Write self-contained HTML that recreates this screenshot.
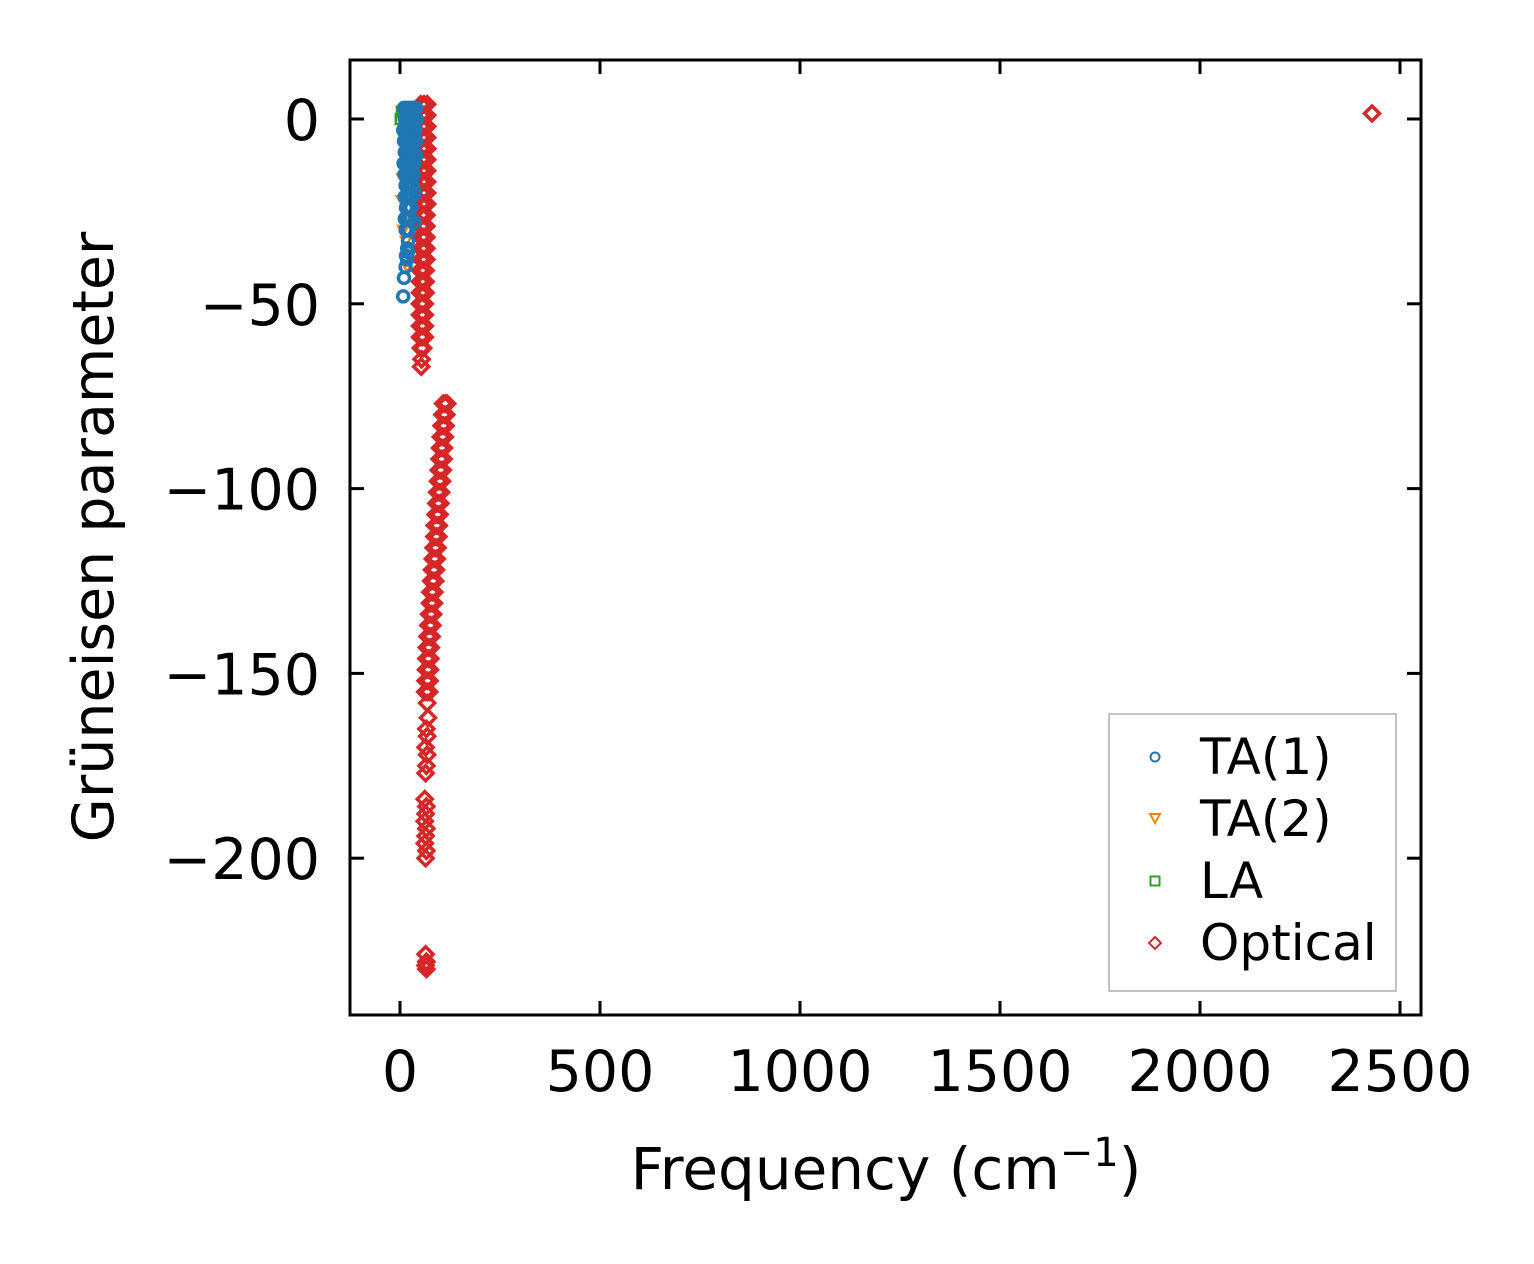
<!DOCTYPE html>
<html><head><meta charset="utf-8"><style>
body{margin:0;background:#fff;}
svg{display:block;font-family:"DejaVu Sans","Liberation Sans",sans-serif;}
</style></head><body>
<svg id="chart" width="1534" height="1264" viewBox="0 0 1534 1264" xmlns="http://www.w3.org/2000/svg">
<rect width="1534" height="1264" fill="#fff"/>
<g id="marks"></g>
<rect x="350" y="60" width="1071" height="955" fill="none" stroke="#000" stroke-width="3"/>
<g id="axes"></g>
<text x="113" y="537" font-size="57" text-anchor="middle" transform="rotate(-90 113 537)">Grüneisen parameter</text>
<text x="886" y="1189" font-size="58" text-anchor="middle">Frequency (cm<tspan dy="-23" font-size="40">−1</tspan><tspan dy="23">)</tspan></text>
<g>
<rect x="1109" y="714" width="287" height="277" fill="#fff" stroke="#999" stroke-width="1.2"/>
<circle cx="1155" cy="757" r="4.5" fill="none" stroke="#1f77b4" stroke-width="2"/>
<text x="1200" y="774" font-size="50">TA(1)</text>
<path d="M1150,814 L1160,814 L1155,823 Z" fill="none" stroke="#ff7f0e" stroke-width="2"/>
<text x="1200" y="836" font-size="50">TA(2)</text>
<rect x="1150.5" y="876.5" width="9" height="9" fill="none" stroke="#2ca02c" stroke-width="2"/>
<text x="1200" y="898" font-size="50">LA</text>
<path d="M1155,937 L1161,943 L1155,949 L1149,943 Z" fill="none" stroke="#d62728" stroke-width="2"/>
<text x="1200" y="960" font-size="50">Optical</text>
</g>
</svg>
<script>
const xTicks=[0,500,1000,1500,2000,2500];
const yTicks=[0,-50,-100,-150,-200];
const ta1Freq=[10,18,25,32,40,12,20,28,35,42,8,15,22,30,38,10,18,26,33,40,12,18,24,30,36,9,15,22,28,35,11,18,25,30,34,14,18,22,28,32,12,18,24,28,30,15,18,22,25,28,12,16,20,24,26,14,18,22,20,18,15,18,14,10,8,30,35,20,40,38,36];
const ta1Gamma=[3,3,3,3,3,0,0,0,0,0,-3,-3,-3,-3,-3,-6,-6,-6,-6,-6,-9,-9,-9,-9,-9,-12,-12,-12,-12,-12,-15,-15,-15,-15,-15,-18,-18,-18,-18,-18,-21,-21,-21,-21,-21,-24,-24,-24,-24,-24,-27,-27,-27,-27,-27,-30,-30,-30,-33,-35,-37,-38,-40,-43,-48,-1,2,-36,-10,-20,-28];
const ta2Freq=[5,8,12,20,6,15,32,18];
const ta2Gamma=[-22,-30,-5,-26,-16,-33,2,-40];
const laFreq=[2,5,10,35,30,15];
const laGamma=[0,2,-3,2,-10,-6];
const optFreq=[
52,60,68,52,60,68,52,60,68,52,60,68,52,60,68,52,60,68,52,60,68,52,60,68,52,60,68,52,60,68,
52,60,66,52,60,66,52,58,66,52,58,66,52,58,66,50,58,64,50,58,64,50,58,64,50,56,62,50,56,62,
50,56,62,50,56,62,52,58,54,53,
108,113,118,106,111,116,104,109,114,102,107,112,100,105,110,99,104,109,97,102,107,95,100,105,
93,98,103,91,96,101,89,94,99,87,92,97,86,91,96,84,89,94,82,87,92,80,85,90,78,83,88,76,81,86,
75,80,85,73,78,83,71,76,81,69,74,79,67,72,77,66,71,76,65,70,75,64,69,74,63,68,73,
68,70,66,68,64,68,66,64,62,66,64,62,66,64,62,66,64,64,66,64,66];
const optGamma=[
4,4,4,1,1,1,-2,-2,-2,-5,-5,-5,-8,-8,-8,-11,-11,-11,-14,-14,-14,-17,-17,-17,-20,-20,-20,-23,-23,-23,
-26,-26,-26,-29,-29,-29,-32,-32,-32,-35,-35,-35,-38,-38,-38,-41,-41,-41,-44,-44,-44,-47,-47,-47,-50,-50,-50,-53,-53,-53,
-56,-56,-56,-59,-59,-59,-62,-62,-65,-67,
-77,-77,-77,-80,-80,-80,-83,-83,-83,-86,-86,-86,-89,-89,-89,-92,-92,-92,-95,-95,-95,-98,-98,-98,
-101,-101,-101,-104,-104,-104,-107,-107,-107,-110,-110,-110,-113,-113,-113,-116,-116,-116,-119,-119,-119,-122,-122,-122,-125,-125,-125,-128,-128,-128,
-131,-131,-131,-134,-134,-134,-137,-137,-137,-140,-140,-140,-143,-143,-143,-146,-146,-146,-149,-149,-149,-152,-152,-152,-155,-155,-155,
-158,-162,-165,-167,-170,-172,-175,-177,-184,-186,-188,-190,-192,-194,-196,-198,-200,-226,-228,-229,-230];
const outlierFreq=[2430];
const outlierGamma=[1.5];
function X(f){return 400+0.4*f;}
function Y(g){return 119-3.696*g;}
const NS='http://www.w3.org/2000/svg';
const marks=document.getElementById('marks');
const axes=document.getElementById('axes');
function mk(tag,attrs,parent){const e=document.createElementNS(NS,tag);for(const k in attrs)e.setAttribute(k,attrs[k]);parent.appendChild(e);return e;}
xTicks.forEach(t=>{
  const x=X(t);
  const a=mk('line',{x1:x,x2:x,y1:1015,y2:1001,stroke:'#000','stroke-width':3},axes);
  
  
  const b=mk('line',{x1:x,x2:x,y1:60,y2:74,stroke:'#000','stroke-width':3},axes);
  
  
  const l=mk('text',{x:x,y:1091,'font-size':57,'text-anchor':'middle'},axes);
  l.textContent=String(t);
  
  
});
yTicks.forEach(t=>{
  const y=Y(t);
  const a=mk('line',{x1:350,x2:364,y1:y,y2:y,stroke:'#000','stroke-width':3},axes);
  
  
  const b=mk('line',{x1:1407,x2:1421,y1:y,y2:y,stroke:'#000','stroke-width':3},axes);
  
  
  const l=mk('text',{x:320,y:y+21,'font-size':57,'text-anchor':'end'},axes);
  l.textContent=(t<0?'−':'')+Math.abs(t);
  
  
});
function diamond(f,g){
  const x=X(f),y=Y(g);
  const e=mk('path',{d:`M${x},${y-7.5} L${x+7.5},${y} L${x},${y+7.5} L${x-7.5},${y} Z`,fill:'none',stroke:'#d62728','stroke-width':3.5},marks);
  
  
}
optFreq.forEach((f,i)=>diamond(f,optGamma[i]));
outlierFreq.forEach((f,i)=>diamond(f,outlierGamma[i]));
laFreq.forEach((f,i)=>{
  const x=X(f),y=Y(laGamma[i]);
  const e=mk('rect',{x:x-5,y:y-5,width:10,height:10,fill:'none',stroke:'#2ca02c','stroke-width':2.5},marks);
  
  
});
ta2Freq.forEach((f,i)=>{
  const x=X(f),y=Y(ta2Gamma[i]);
  const e=mk('path',{d:`M${x-5},${y-4} L${x+5},${y-4} L${x},${y+5} Z`,fill:'none',stroke:'#ff7f0e','stroke-width':2.5},marks);
  
  
});
ta1Freq.forEach((f,i)=>{
  const x=X(f),y=Y(ta1Gamma[i]);
  const e=mk('circle',{cx:x,cy:y,r:5.5,fill:'none',stroke:'#1f77b4','stroke-width':3.5},marks);
  
  
});
</script>
</body></html>
